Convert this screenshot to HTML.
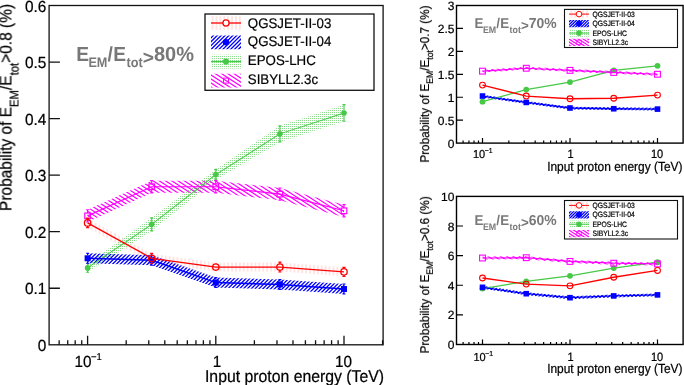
<!DOCTYPE html>
<html><head><meta charset="utf-8"><style>
html,body{margin:0;padding:0;background:#fff;width:684px;height:385px;overflow:hidden}
svg{display:block} g{will-change:transform}
text{font-family:"Liberation Sans", sans-serif;text-rendering:geometricPrecision}
</style></head><body>
<svg width="684" height="385" viewBox="0 0 684 385">
<defs>
<pattern id="hm" patternUnits="userSpaceOnUse" width="20" height="3.9" patternTransform="rotate(36)">
  <rect x="0" y="1.3" width="20" height="1.3" fill="#ff00ff"/>
</pattern>
<pattern id="hb" patternUnits="userSpaceOnUse" width="20" height="2.6" patternTransform="rotate(-45)">
  <rect x="0" y="0.65" width="20" height="1.3" fill="#0000ff"/>
</pattern>
<pattern id="hr" patternUnits="userSpaceOnUse" width="3.9" height="4">
  <rect x="1.5" y="0" width="0.9" height="4" fill="#ffc4c4"/>
</pattern>
<pattern id="hg" patternUnits="userSpaceOnUse" width="2" height="2">
  <rect x="0" y="0" width="1" height="1" fill="#8cdc8c"/>
</pattern>
<clipPath id="c1"><polygon points="87.6,218.35 151.7,253.75 215.8,262.52 279.9,262.52 344,267.33 344,276.37 279.9,271.57 215.8,271.57 151.7,262.8 87.6,227.4"/></clipPath><clipPath id="c2"><polygon points="87.6,263.48 151.7,217.85 215.8,169.38 279.9,125.84 344,104.63 344,121.26 279.9,141.9 215.8,179.79 151.7,230.85 87.6,272.3"/></clipPath><clipPath id="c3"><polygon points="87.6,209.76 151.7,180.64 215.8,180.64 279.9,187.99 344,204.67 344,216.88 279.9,200.2 215.8,192.85 151.7,192.85 87.6,221.97"/></clipPath><clipPath id="c4"><polygon points="87.6,253.3 151.7,255.28 215.8,277.62 279.9,279.48 344,284.07 344,294.02 279.9,289.44 215.8,287.57 151.7,265.23 87.6,263.25"/></clipPath><clipPath id="c5"><polygon points="211,16.1 241,16.1 241,29.9 211,29.9"/></clipPath><clipPath id="c6"><polygon points="211,35.4 241,35.4 241,49.2 211,49.2"/></clipPath><clipPath id="c7"><polygon points="211,54.7 241,54.7 241,68.5 211,68.5"/></clipPath><clipPath id="c8"><polygon points="211,73.7 241,73.7 241,87.5 211,87.5"/></clipPath><clipPath id="c9"><polygon points="482.5,69.76 526.25,66.87 570,68.98 613.75,71.09 657.5,72.88 657.5,75.63 613.75,73.84 570,71.73 526.25,69.62 482.5,72.51"/></clipPath><clipPath id="c10"><polygon points="482.5,94.66 526.25,101.04 570,106.64 613.75,107.37 657.5,107.74 657.5,110.49 613.75,110.12 570,109.39 526.25,103.79 482.5,97.42"/></clipPath><clipPath id="c11"><polygon points="569,10.5 589,10.5 589,17.7 569,17.7"/></clipPath><clipPath id="c12"><polygon points="569,20 589,20 589,27.2 569,27.2"/></clipPath><clipPath id="c13"><polygon points="569,29.5 589,29.5 589,36.7 569,36.7"/></clipPath><clipPath id="c14"><polygon points="569,38.8 589,38.8 589,46 569,46"/></clipPath><clipPath id="c15"><polygon points="482.5,256.53 526.25,256.23 570,259.93 613.75,261.71 657.5,262.45 657.5,265.41 613.75,264.67 570,262.9 526.25,259.19 482.5,259.49"/></clipPath><clipPath id="c16"><polygon points="482.5,285.85 526.25,292.22 570,296.22 613.75,294.44 657.5,293.41 657.5,296.37 613.75,297.4 570,299.18 526.25,295.18 482.5,288.81"/></clipPath><clipPath id="c17"><polygon points="569,201.8 589,201.8 589,209 569,209"/></clipPath><clipPath id="c18"><polygon points="569,211.2 589,211.2 589,218.4 569,218.4"/></clipPath><clipPath id="c19"><polygon points="569,220.6 589,220.6 589,227.8 569,227.8"/></clipPath><clipPath id="c20"><polygon points="569,230 589,230 589,237.2 569,237.2"/></clipPath></defs>
<rect width="684" height="385" fill="#fff"/>
<polygon points="87.6,218.35 151.7,253.75 215.8,262.52 279.9,262.52 344,267.33 344,276.37 279.9,271.57 215.8,271.57 151.7,262.8 87.6,227.4" fill="url(#hr)" stroke="none"/>
<polygon points="87.6,263.48 151.7,217.85 215.8,169.38 279.9,125.84 344,104.63 344,121.26 279.9,141.9 215.8,179.79 151.7,230.85 87.6,272.3" fill="url(#hg)" stroke="none"/>
<path clip-path="url(#c3)" d="M178.62,10.95L404.82,157.84M176.77,13.8L402.97,160.69M174.92,16.65L401.12,163.54M173.07,19.5L399.27,166.4M171.22,22.35L397.41,169.25M169.36,25.2L395.56,172.1M167.51,28.06L393.71,174.95M165.66,30.91L391.86,177.8M163.81,33.76L390.01,180.65M161.96,36.61L388.16,183.5M160.11,39.46L386.3,186.36M158.25,42.31L384.45,189.21M156.4,45.16L382.6,192.06M154.55,48.02L380.75,194.91M152.7,50.87L378.9,197.76M150.85,53.72L377.05,200.61M148.99,56.57L375.19,203.46M147.14,59.42L373.34,206.32M145.29,62.27L371.49,209.17M143.44,65.12L369.64,212.02M141.59,67.98L367.79,214.87M139.74,70.83L365.93,217.72M137.88,73.68L364.08,220.57M136.03,76.53L362.23,223.43M134.18,79.38L360.38,226.28M132.33,82.23L358.53,229.13M130.48,85.08L356.68,231.98M128.63,87.94L354.82,234.83M126.77,90.79L352.97,237.68M124.92,93.64L351.12,240.53M123.07,96.49L349.27,243.39M121.22,99.34L347.42,246.24M119.37,102.19L345.57,249.09M117.51,105.04L343.71,251.94M115.66,107.9L341.86,254.79M113.81,110.75L340.01,257.64M111.96,113.6L338.16,260.49M110.11,116.45L336.31,263.35M108.26,119.3L334.45,266.2M106.4,122.15L332.6,269.05M104.55,125.01L330.75,271.9M102.7,127.86L328.9,274.75M100.85,130.71L327.05,277.6M99,133.56L325.2,280.45M97.15,136.41L323.34,283.31M95.29,139.26L321.49,286.16M93.44,142.11L319.64,289.01M91.59,144.97L317.79,291.86M89.74,147.82L315.94,294.71M87.89,150.67L314.09,297.56M86.03,153.52L312.23,300.42M84.18,156.37L310.38,303.27M82.33,159.22L308.53,306.12M80.48,162.07L306.68,308.97M78.63,164.93L304.83,311.82M76.78,167.78L302.97,314.67M74.92,170.63L301.12,317.52M73.07,173.48L299.27,320.38M71.22,176.33L297.42,323.23M69.37,179.18L295.57,326.08M67.52,182.03L293.72,328.93M65.67,184.89L291.86,331.78M63.81,187.74L290.01,334.63M61.96,190.59L288.16,337.48M60.11,193.44L286.31,340.34M58.26,196.29L284.46,343.19M56.41,199.14L282.61,346.04M54.55,202L280.75,348.89M52.7,204.85L278.9,351.74M50.85,207.7L277.05,354.59M49,210.55L275.2,357.44M47.15,213.4L273.35,360.3M45.3,216.25L271.49,363.15M43.44,219.1L269.64,366M41.59,221.96L267.79,368.85M39.74,224.81L265.94,371.7M37.89,227.66L264.09,374.55M36.04,230.51L262.24,377.41M34.19,233.36L260.38,380.26M32.33,236.21L258.53,383.11M30.48,239.06L256.68,385.96M28.63,241.92L254.83,388.81M26.78,244.77L252.98,391.66" stroke="#ff00ff" stroke-width="1.2" fill="none"/>
<path clip-path="url(#c4)" d="M21.31,269.81L211.95,79.17M23.25,271.76L213.9,81.11M25.19,273.7L215.84,83.05M27.14,275.64L217.78,85M29.08,277.59L219.73,86.94M31.03,279.53L221.67,88.89M32.97,281.48L223.62,90.83M34.92,283.42L225.56,92.78M36.86,285.37L227.51,94.72M38.81,287.31L229.45,96.67M40.75,289.26L231.4,98.61M42.7,291.2L233.34,100.56M44.64,293.15L235.29,102.5M46.58,295.09L237.23,104.44M48.53,297.03L239.17,106.39M50.47,298.98L241.12,108.33M52.42,300.92L243.06,110.28M54.36,302.87L245.01,112.22M56.31,304.81L246.95,114.17M58.25,306.76L248.9,116.11M60.2,308.7L250.84,118.06M62.14,310.65L252.79,120M64.09,312.59L254.73,121.95M66.03,314.54L256.68,123.89M67.97,316.48L258.62,125.83M69.92,318.42L260.56,127.78M71.86,320.37L262.51,129.72M73.81,322.31L264.45,131.67M75.75,324.26L266.4,133.61M77.7,326.2L268.34,135.56M79.64,328.15L270.29,137.5M81.59,330.09L272.23,139.45M83.53,332.04L274.18,141.39M85.48,333.98L276.12,143.34M87.42,335.93L278.07,145.28M89.36,337.87L280.01,147.22M91.31,339.81L281.95,149.17M93.25,341.76L283.9,151.11M95.2,343.7L285.84,153.06M97.14,345.65L287.79,155M99.09,347.59L289.73,156.95M101.03,349.54L291.68,158.89M102.98,351.48L293.62,160.84M104.92,353.43L295.57,162.78M106.87,355.37L297.51,164.73M108.81,357.32L299.46,166.67M110.75,359.26L301.4,168.61M112.7,361.2L303.34,170.56M114.64,363.15L305.29,172.5M116.59,365.09L307.23,174.45M118.53,367.04L309.18,176.39M120.48,368.98L311.12,178.34M122.42,370.93L313.07,180.28M124.37,372.87L315.01,182.23M126.31,374.82L316.96,184.17M128.26,376.76L318.9,186.12M130.2,378.71L320.85,188.06M132.14,380.65L322.79,190M134.09,382.59L324.73,191.95M136.03,384.54L326.68,193.89M137.98,386.48L328.62,195.84M139.92,388.43L330.57,197.78M141.87,390.37L332.51,199.73M143.81,392.32L334.46,201.67M145.76,394.26L336.4,203.62M147.7,396.21L338.35,205.56M149.65,398.15L340.29,207.51M151.59,400.1L342.24,209.45M153.53,402.04L344.18,211.39M155.48,403.98L346.12,213.34M157.42,405.93L348.07,215.28M159.37,407.87L350.01,217.23M161.31,409.82L351.96,219.17M163.26,411.76L353.9,221.12M165.2,413.71L355.85,223.06M167.15,415.65L357.79,225.01M169.09,417.6L359.74,226.95M171.04,419.54L361.68,228.9M172.98,421.49L363.63,230.84M174.92,423.43L365.57,232.78M176.87,425.37L367.51,234.73M178.81,427.32L369.46,236.67M180.76,429.26L371.4,238.62M182.7,431.21L373.35,240.56M184.65,433.15L375.29,242.51M186.59,435.1L377.24,244.45M188.54,437.04L379.18,246.4M190.48,438.99L381.13,248.34M192.43,440.93L383.07,250.29M194.37,442.88L385.02,252.23M196.31,444.82L386.96,254.17M198.26,446.76L388.9,256.12M200.2,448.71L390.85,258.06M202.15,450.65L392.79,260.01M204.09,452.6L394.74,261.95M206.04,454.54L396.68,263.9M207.98,456.49L398.63,265.84M209.93,458.43L400.57,267.79M211.87,460.38L402.52,269.73M213.82,462.32L404.46,271.68M215.76,464.27L406.41,273.62M217.7,466.21L408.35,275.56M219.65,468.15L410.29,277.51" stroke="#0000ff" stroke-width="1.3" fill="none"/>
<polyline points="87.6,267.89 151.7,224.35 215.8,174.58 279.9,133.87 344,112.94" fill="none" stroke="#47c847" stroke-width="1.05"/>
<path d="M87.6,263.48V265.39M87.6,270.39V272.3M86.1,263.48H89.1M86.1,272.3H89.1M151.7,217.85V221.85M151.7,226.85V230.85M150.2,217.85H153.2M150.2,230.85H153.2M215.8,169.38V172.08M215.8,177.08V179.79M214.3,169.38H217.3M214.3,179.79H217.3M279.9,125.84V131.37M279.9,136.37V141.9M278.4,125.84H281.4M278.4,141.9H281.4M344,104.63V110.44M344,115.44V121.26M342.5,104.63H345.5M342.5,121.26H345.5" stroke="#47c847" stroke-width="1.1" fill="none"/>
<circle cx="87.6" cy="267.89" r="2.8" fill="#47c847"/>
<circle cx="151.7" cy="224.35" r="2.8" fill="#47c847"/>
<circle cx="215.8" cy="174.58" r="2.8" fill="#47c847"/>
<circle cx="279.9" cy="133.87" r="2.8" fill="#47c847"/>
<circle cx="344" cy="112.94" r="2.8" fill="#47c847"/>
<polyline points="87.6,215.87 151.7,186.74 215.8,186.74 279.9,194.09 344,210.78" fill="none" stroke="#ff00ff" stroke-width="1.2"/>
<path d="M87.6,209.76V213.07M87.6,218.67V221.97M86.1,209.76H89.1M86.1,221.97H89.1M151.7,180.64V183.94M151.7,189.54V192.85M150.2,180.64H153.2M150.2,192.85H153.2M215.8,180.64V183.94M215.8,189.54V192.85M214.3,180.64H217.3M214.3,192.85H217.3M279.9,187.99V191.29M279.9,196.89V200.2M278.4,187.99H281.4M278.4,200.2H281.4M344,204.67V207.98M344,213.58V216.88M342.5,204.67H345.5M342.5,216.88H345.5" stroke="#ff00ff" stroke-width="1.1" fill="none"/>
<rect x="84.8" y="213.07" width="5.6" height="5.6" fill="none" stroke="#ff00ff" stroke-width="1.2"/>
<rect x="148.9" y="183.94" width="5.6" height="5.6" fill="none" stroke="#ff00ff" stroke-width="1.2"/>
<rect x="213" y="183.94" width="5.6" height="5.6" fill="none" stroke="#ff00ff" stroke-width="1.2"/>
<rect x="277.1" y="191.29" width="5.6" height="5.6" fill="none" stroke="#ff00ff" stroke-width="1.2"/>
<rect x="341.2" y="207.98" width="5.6" height="5.6" fill="none" stroke="#ff00ff" stroke-width="1.2"/>
<polyline points="87.6,258.28 151.7,260.26 215.8,282.6 279.9,284.46 344,289.04" fill="none" stroke="#0000ff" stroke-width="1.5"/>
<path d="M87.6,253.3V255.28M87.6,261.28V263.25M86.1,253.3H89.1M86.1,263.25H89.1M151.7,255.28V257.26M151.7,263.26V265.23M150.2,255.28H153.2M150.2,265.23H153.2M215.8,277.62V279.6M215.8,285.6V287.57M214.3,277.62H217.3M214.3,287.57H217.3M279.9,279.48V281.46M279.9,287.46V289.44M278.4,279.48H281.4M278.4,289.44H281.4M344,284.07V286.04M344,292.04V294.02M342.5,284.07H345.5M342.5,294.02H345.5" stroke="#0000ff" stroke-width="1.1" fill="none"/>
<rect x="84.6" y="255.28" width="6" height="6" fill="#0000ff"/>
<rect x="148.7" y="257.26" width="6" height="6" fill="#0000ff"/>
<rect x="212.8" y="279.6" width="6" height="6" fill="#0000ff"/>
<rect x="276.9" y="281.46" width="6" height="6" fill="#0000ff"/>
<rect x="341" y="286.04" width="6" height="6" fill="#0000ff"/>
<polyline points="87.6,222.88 151.7,258.28 215.8,267.04 279.9,267.04 344,271.85" fill="none" stroke="#ff0000" stroke-width="1.3"/>
<path d="M87.6,218.07V219.68M87.6,226.08V227.68M86.1,218.07H89.1M86.1,227.68H89.1M151.7,253.3V255.08M151.7,261.48V263.25M150.2,253.3H153.2M150.2,263.25H153.2M279.9,262.07V263.84M279.9,270.24V272.02M278.4,262.07H281.4M278.4,272.02H281.4M344,267.33V268.65M344,275.05V276.37M342.5,267.33H345.5M342.5,276.37H345.5" stroke="#ff0000" stroke-width="1.2" fill="none"/>
<circle cx="87.6" cy="222.88" r="3.2" fill="none" stroke="#ff0000" stroke-width="1.3"/>
<circle cx="151.7" cy="258.28" r="3.2" fill="none" stroke="#ff0000" stroke-width="1.3"/>
<circle cx="215.8" cy="267.04" r="3.2" fill="none" stroke="#ff0000" stroke-width="1.3"/>
<circle cx="279.9" cy="267.04" r="3.2" fill="none" stroke="#ff0000" stroke-width="1.3"/>
<circle cx="344" cy="271.85" r="3.2" fill="none" stroke="#ff0000" stroke-width="1.3"/>
<rect x="49.1" y="5.5" width="334" height="339.3" fill="none" stroke="#111" stroke-width="1.3"/>
<path d="M59.16,344.8V340.3M67.74,344.8V340.3M75.18,344.8V340.3M81.73,344.8V340.3M87.6,344.8V335.8M126.19,344.8V340.3M148.77,344.8V340.3M164.78,344.8V340.3M177.21,344.8V340.3M187.36,344.8V340.3M195.94,344.8V340.3M203.38,344.8V340.3M209.93,344.8V340.3M215.8,344.8V335.8M254.39,344.8V340.3M276.97,344.8V340.3M292.98,344.8V340.3M305.41,344.8V340.3M315.56,344.8V340.3M324.14,344.8V340.3M331.58,344.8V340.3M338.13,344.8V340.3M344,344.8V335.8M382.59,344.8V340.3" stroke="#111" stroke-width="1.3" fill="none"/>
<path d="M49.1,288.25H59.9M49.1,231.7H59.9M49.1,175.15H59.9M49.1,118.6H59.9M49.1,62.05H59.9" stroke="#111" stroke-width="1.3" fill="none"/>
<g transform="translate(46.4,350.8) scale(1.0,1.05)"><text x="0" y="0" font-size="15.4" text-anchor="end" fill="#000" font-weight="normal" stroke="#000" stroke-width="0.22">0</text></g>
<g transform="translate(46.4,294.25) scale(1.0,1.05)"><text x="0" y="0" font-size="15.4" text-anchor="end" fill="#000" font-weight="normal" stroke="#000" stroke-width="0.22">0.1</text></g>
<g transform="translate(46.4,237.7) scale(1.0,1.05)"><text x="0" y="0" font-size="15.4" text-anchor="end" fill="#000" font-weight="normal" stroke="#000" stroke-width="0.22">0.2</text></g>
<g transform="translate(46.4,181.15) scale(1.0,1.05)"><text x="0" y="0" font-size="15.4" text-anchor="end" fill="#000" font-weight="normal" stroke="#000" stroke-width="0.22">0.3</text></g>
<g transform="translate(46.4,124.6) scale(1.0,1.05)"><text x="0" y="0" font-size="15.4" text-anchor="end" fill="#000" font-weight="normal" stroke="#000" stroke-width="0.22">0.4</text></g>
<g transform="translate(46.4,68.05) scale(1.0,1.05)"><text x="0" y="0" font-size="15.4" text-anchor="end" fill="#000" font-weight="normal" stroke="#000" stroke-width="0.22">0.5</text></g>
<g transform="translate(46.4,11.5) scale(1.0,1.05)"><text x="0" y="0" font-size="15.4" text-anchor="end" fill="#000" font-weight="normal" stroke="#000" stroke-width="0.22">0.6</text></g>
<g transform="translate(74.6,366.8) scale(1.0,1.05)"><text x="0" y="0" font-size="15.3" text-anchor="start" fill="#000" font-weight="normal" stroke="#000" stroke-width="0.22">10<tspan font-size="9.5" dy="-6.8" dx="-0.6">−1</tspan></text></g>
<g transform="translate(216.9,366.8) scale(1.0,1.05)"><text x="0" y="0" font-size="15.3" text-anchor="middle" fill="#000" font-weight="normal" stroke="#000" stroke-width="0.22">1</text></g>
<g transform="translate(343.4,366.8) scale(1.0,1.05)"><text x="0" y="0" font-size="15.3" text-anchor="middle" fill="#000" font-weight="normal" stroke="#000" stroke-width="0.22">10</text></g>
<g transform="translate(384.1,381.8) scale(1.0,1.08)"><text x="0" y="0" font-size="15.8" text-anchor="end" fill="#000" font-weight="normal" stroke="#000" stroke-width="0.22">Input proton energy (TeV)</text></g>
<g transform="translate(11.6,4) rotate(-90) scale(1.03,1.15)">
<text x="0" y="0" font-size="15" text-anchor="end" stroke="#000" stroke-width="0.2">Probability of E<tspan font-size="11" dy="5.6">EM</tspan><tspan dy="-5.6">/E</tspan><tspan font-size="11" dy="5.6">tot</tspan><tspan dy="-5.6">&gt;0.8 (%)</tspan></text>
</g>
<g transform="translate(76.2,61.3) scale(1,1.06)"><text x="0" y="0" font-size="19.2" fill="#787878" font-weight="bold">E</text></g>
<g transform="translate(88.4,67.5) scale(1,1.08)"><text x="0" y="0" font-size="12.7" fill="#787878" font-weight="bold">EM</text></g>
<g transform="translate(107.6,61.3) scale(1,1.06)"><text x="0" y="0" font-size="19.2" fill="#787878" font-weight="bold">/</text></g>
<g transform="translate(113.2,61.3) scale(1,1.06)"><text x="0" y="0" font-size="19.2" fill="#787878" font-weight="bold">E</text></g>
<g transform="translate(126.6,67.5) scale(1,1.08)"><text x="0" y="0" font-size="12.7" fill="#787878" font-weight="bold">tot</text></g>
<g transform="translate(142.8,64) scale(1,1.0)"><text x="0" y="0" font-size="19.2" fill="#787878" font-weight="bold">&gt;</text></g>
<g transform="translate(154,61.3) scale(1,1.03)"><text x="0" y="0" font-size="20" fill="#787878" font-weight="bold">80%</text></g>
<rect x="205" y="14" width="169" height="76.3" fill="#fff" stroke="#111" stroke-width="1.3"/>
<polygon points="211,16.1 241,16.1 241,29.9 211,29.9" fill="url(#hr)" stroke="none"/>
<path d="M211,23H241" stroke="#ff0000" stroke-width="1.3"/>
<circle cx="226" cy="23" r="3.1" fill="#fff" stroke="#ff0000" stroke-width="1.3"/>
<g transform="translate(247.8,27.5) scale(1.0,1.05)"><text x="0" y="0" font-size="13.3" text-anchor="start" fill="#000" font-weight="normal" stroke="#000" stroke-width="0.2">QGSJET-II-03</text></g>
<path clip-path="url(#c6)" d="M193.29,40.01L223.71,9.59M195.23,41.95L225.65,11.53M197.18,43.9L227.6,13.48M199.12,45.84L229.54,15.42M201.07,47.79L231.49,17.37M203.01,49.73L233.43,19.31M204.96,51.68L235.38,21.26M206.9,53.62L237.32,23.2M208.84,55.57L239.27,25.14M210.79,57.51L241.21,27.09M212.73,59.46L243.16,29.03M214.68,61.4L245.1,30.98M216.62,63.34L247.04,32.92M218.57,65.29L248.99,34.87M220.51,67.23L250.93,36.81M222.46,69.18L252.88,38.76M224.4,71.12L254.82,40.7M226.35,73.07L256.77,42.65M228.29,75.01L258.71,44.59" stroke="#0000ff" stroke-width="1.3" fill="none"/>
<circle cx="226" cy="42.3" r="3.26" fill="#0000ff"/>
<g transform="translate(247.8,46.2) scale(1.0,1.05)"><text x="0" y="0" font-size="13.3" text-anchor="start" fill="#000" font-weight="normal" stroke="#000" stroke-width="0.2">QGSJET-II-04</text></g>
<polygon points="211,54.7 241,54.7 241,68.5 211,68.5" fill="url(#hg)" stroke="none"/>
<path d="M211,61.6H241" stroke="#47c847" stroke-width="1.3"/>
<circle cx="226" cy="61.6" r="3.1" fill="#47c847"/>
<g transform="translate(247.8,65) scale(1.0,1.05)"><text x="0" y="0" font-size="13.3" text-anchor="start" fill="#000" font-weight="normal" stroke="#000" stroke-width="0.2">EPOS-LHC</text></g>
<path clip-path="url(#c8)" d="M222.77,46.07L258.85,69.5M220.92,48.92L257,72.36M219.07,51.78L255.15,75.21M217.22,54.63L253.3,78.06M215.37,57.48L251.45,80.91M213.51,60.33L249.6,83.76M211.66,63.18L247.74,86.61M209.81,66.03L245.89,89.46M207.96,68.88L244.04,92.32M206.11,71.74L242.19,95.17M204.26,74.59L240.34,98.02M202.4,77.44L238.49,100.87M200.55,80.29L236.63,103.72M198.7,83.14L234.78,106.57M196.85,85.99L232.93,109.42M195,88.84L231.08,112.28M193.15,91.7L229.23,115.13" stroke="#ff00ff" stroke-width="1.2" fill="none"/>
<rect x="223.52" y="78.12" width="4.96" height="4.96" fill="none" stroke="#ff00ff" stroke-width="1.0"/>
<g transform="translate(247.8,84) scale(1.0,1.05)"><text x="0" y="0" font-size="13.3" text-anchor="start" fill="#000" font-weight="normal" stroke="#000" stroke-width="0.2">SIBYLL2.3c</text></g>
<path clip-path="url(#c9)" d="M546.03,-61.88L701.37,39M544.18,-59.03L699.52,41.85M542.33,-56.18L697.67,44.7M540.48,-53.33L695.82,47.55M538.63,-50.48L693.96,50.4M536.77,-47.62L692.11,53.25M534.92,-44.77L690.26,56.1M533.07,-41.92L688.41,58.96M531.22,-39.07L686.56,61.81M529.37,-36.22L684.7,64.66M527.51,-33.37L682.85,67.51M525.66,-30.52L681,70.36M523.81,-27.66L679.15,73.21M521.96,-24.81L677.3,76.06M520.11,-21.96L675.45,78.92M518.26,-19.11L673.59,81.77M516.4,-16.26L671.74,84.62M514.55,-13.41L669.89,87.47M512.7,-10.56L668.04,90.32M510.85,-7.7L666.19,93.17M509,-4.85L664.33,96.03M507.15,-2L662.48,98.88M505.29,0.85L660.63,101.73M503.44,3.7L658.78,104.58M501.59,6.55L656.93,107.43M499.74,9.41L655.08,110.28M497.89,12.26L653.22,113.13M496.03,15.11L651.37,115.99M494.18,17.96L649.52,118.84M492.33,20.81L647.67,121.69M490.48,23.66L645.82,124.54M488.63,26.51L643.97,127.39M486.78,29.37L642.11,130.24M484.92,32.22L640.26,133.09M483.07,35.07L638.41,135.95M481.22,37.92L636.56,138.8M479.37,40.77L634.71,141.65M477.52,43.62L632.85,144.5M475.67,46.47L631,147.35M473.81,49.33L629.15,150.2M471.96,52.18L627.3,153.05M470.11,55.03L625.45,155.91M468.26,57.88L623.6,158.76M466.41,60.73L621.74,161.61M464.55,63.58L619.89,164.46M462.7,66.43L618.04,167.31M460.85,69.29L616.19,170.16M459,72.14L614.34,173.02M457.15,74.99L612.49,175.87M455.3,77.84L610.63,178.72M453.44,80.69L608.78,181.57M451.59,83.54L606.93,184.42M449.74,86.4L605.08,187.27M447.89,89.25L603.23,190.12M446.04,92.1L601.37,192.98M444.18,94.95L599.52,195.83M442.33,97.8L597.67,198.68M440.48,100.65L595.82,201.53M438.63,103.5L593.97,204.38" stroke="#ff00ff" stroke-width="1.2" fill="none"/>
<path clip-path="url(#c10)" d="M436.28,100.18L567.6,-31.14M438.23,102.12L569.55,-29.2M440.17,104.07L571.49,-27.25M442.11,106.01L573.43,-25.31M444.06,107.96L575.38,-23.36M446,109.9L577.32,-21.42M447.95,111.84L579.27,-19.47M449.89,113.79L581.21,-17.53M451.84,115.73L583.16,-15.59M453.78,117.68L585.1,-13.64M455.73,119.62L587.05,-11.7M457.67,121.57L588.99,-9.75M459.62,123.51L590.94,-7.81M461.56,125.46L592.88,-5.86M463.5,127.4L594.82,-3.92M465.45,129.35L596.77,-1.97M467.39,131.29L598.71,-0.03M469.34,133.23L600.66,1.92M471.28,135.18L602.6,3.86M473.23,137.12L604.55,5.8M475.17,139.07L606.49,7.75M477.12,141.01L608.44,9.69M479.06,142.96L610.38,11.64M481.01,144.9L612.33,13.58M482.95,146.85L614.27,15.53M484.89,148.79L616.21,17.47M486.84,150.74L618.16,19.42M488.78,152.68L620.1,21.36M490.73,154.62L622.05,23.31M492.67,156.57L623.99,25.25M494.62,158.51L625.94,27.19M496.56,160.46L627.88,29.14M498.51,162.4L629.83,31.08M500.45,164.35L631.77,33.03M502.4,166.29L633.72,34.97M504.34,168.24L635.66,36.92M506.28,170.18L637.6,38.86M508.23,172.13L639.55,40.81M510.17,174.07L641.49,42.75M512.12,176.01L643.44,44.7M514.06,177.96L645.38,46.64M516.01,179.9L647.33,48.58M517.95,181.85L649.27,50.53M519.9,183.79L651.22,52.47M521.84,185.74L653.16,54.42M523.79,187.68L655.11,56.36M525.73,189.63L657.05,58.31M527.67,191.57L658.99,60.25M529.62,193.52L660.94,62.2M531.56,195.46L662.88,64.14M533.51,197.4L664.83,66.09M535.45,199.35L666.77,68.03M537.4,201.29L668.72,69.97M539.34,203.24L670.66,71.92M541.29,205.18L672.61,73.86M543.23,207.13L674.55,75.81M545.18,209.07L676.5,77.75M547.12,211.02L678.44,79.7M549.06,212.96L680.38,81.64M551.01,214.91L682.33,83.59M552.95,216.85L684.27,85.53M554.9,218.79L686.22,87.48M556.84,220.74L688.16,89.42M558.79,222.68L690.11,91.36M560.73,224.63L692.05,93.31M562.68,226.57L694,95.25M564.62,228.52L695.94,97.2M566.57,230.46L697.89,99.14M568.51,232.41L699.83,101.09M570.45,234.35L701.77,103.03M572.4,236.3L703.72,104.98" stroke="#0000ff" stroke-width="1.3" fill="none"/>
<polyline points="482.5,101.64 526.25,89.62 570,82.05 613.75,70.45 657.5,65.86" fill="none" stroke="#47c847" stroke-width="1.3"/>
<circle cx="482.5" cy="101.64" r="2.9" fill="#47c847"/>
<circle cx="526.25" cy="89.62" r="2.9" fill="#47c847"/>
<circle cx="570" cy="82.05" r="2.9" fill="#47c847"/>
<circle cx="613.75" cy="70.45" r="2.9" fill="#47c847"/>
<circle cx="657.5" cy="65.86" r="2.9" fill="#47c847"/>
<polyline points="482.5,71.14 526.25,68.25 570,70.36 613.75,72.47 657.5,74.25" fill="none" stroke="#ff00ff" stroke-width="1.2"/>
<rect x="479.6" y="68.24" width="5.8" height="5.8" fill="none" stroke="#ff00ff" stroke-width="1.1"/>
<rect x="523.35" y="65.35" width="5.8" height="5.8" fill="none" stroke="#ff00ff" stroke-width="1.1"/>
<rect x="567.1" y="67.46" width="5.8" height="5.8" fill="none" stroke="#ff00ff" stroke-width="1.1"/>
<rect x="610.85" y="69.57" width="5.8" height="5.8" fill="none" stroke="#ff00ff" stroke-width="1.1"/>
<rect x="654.6" y="71.35" width="5.8" height="5.8" fill="none" stroke="#ff00ff" stroke-width="1.1"/>
<polyline points="482.5,96.04 526.25,102.42 570,108.01 613.75,108.75 657.5,109.11" fill="none" stroke="#0000ff" stroke-width="1.3"/>
<rect x="479.7" y="93.24" width="5.6" height="5.6" fill="#0000ff"/>
<rect x="523.45" y="99.62" width="5.6" height="5.6" fill="#0000ff"/>
<rect x="567.2" y="105.21" width="5.6" height="5.6" fill="#0000ff"/>
<rect x="610.95" y="105.95" width="5.6" height="5.6" fill="#0000ff"/>
<rect x="654.7" y="106.31" width="5.6" height="5.6" fill="#0000ff"/>
<polyline points="482.5,85.12 526.25,96.04 570,98.75 613.75,98.24 657.5,95.12" fill="none" stroke="#ff0000" stroke-width="1.3"/>
<circle cx="482.5" cy="85.12" r="2.9" fill="none" stroke="#ff0000" stroke-width="1.1"/>
<circle cx="526.25" cy="96.04" r="2.9" fill="none" stroke="#ff0000" stroke-width="1.1"/>
<circle cx="570" cy="98.75" r="2.9" fill="none" stroke="#ff0000" stroke-width="1.1"/>
<circle cx="613.75" cy="98.24" r="2.9" fill="none" stroke="#ff0000" stroke-width="1.1"/>
<circle cx="657.5" cy="95.12" r="2.9" fill="none" stroke="#ff0000" stroke-width="1.1"/>
<rect x="456.5" y="5.5" width="226.6" height="137.6" fill="none" stroke="#000" stroke-width="1.4"/>
<path d="M463.09,143.1V140.6M468.95,143.1V140.6M474.02,143.1V140.6M478.5,143.1V140.6M482.5,143.1V138.1M508.84,143.1V140.6M524.25,143.1V140.6M535.18,143.1V140.6M543.66,143.1V140.6M550.59,143.1V140.6M556.45,143.1V140.6M561.52,143.1V140.6M566,143.1V140.6M570,143.1V138.1M596.34,143.1V140.6M611.75,143.1V140.6M622.68,143.1V140.6M631.16,143.1V140.6M638.09,143.1V140.6M643.95,143.1V140.6M649.02,143.1V140.6M653.5,143.1V140.6M657.5,143.1V138.1" stroke="#000" stroke-width="1.2" fill="none"/>
<path d="M456.5,120.17H463M456.5,97.23H463M456.5,74.3H463M456.5,51.37H463M456.5,28.43H463" stroke="#000" stroke-width="1.2" fill="none"/>
<g transform="translate(454.4,147.6) scale(1.0,1.0)"><text x="0" y="0" font-size="12" text-anchor="end" fill="#000" font-weight="normal" stroke="#000" stroke-width="0.22">0</text></g>
<g transform="translate(454.4,124.67) scale(1.0,1.0)"><text x="0" y="0" font-size="12" text-anchor="end" fill="#000" font-weight="normal" stroke="#000" stroke-width="0.22">0.5</text></g>
<g transform="translate(454.4,101.73) scale(1.0,1.0)"><text x="0" y="0" font-size="12" text-anchor="end" fill="#000" font-weight="normal" stroke="#000" stroke-width="0.22">1</text></g>
<g transform="translate(454.4,78.8) scale(1.0,1.0)"><text x="0" y="0" font-size="12" text-anchor="end" fill="#000" font-weight="normal" stroke="#000" stroke-width="0.22">1.5</text></g>
<g transform="translate(454.4,55.87) scale(1.0,1.0)"><text x="0" y="0" font-size="12" text-anchor="end" fill="#000" font-weight="normal" stroke="#000" stroke-width="0.22">2</text></g>
<g transform="translate(454.4,32.93) scale(1.0,1.0)"><text x="0" y="0" font-size="12" text-anchor="end" fill="#000" font-weight="normal" stroke="#000" stroke-width="0.22">2.5</text></g>
<g transform="translate(454.4,10) scale(1.0,1.0)"><text x="0" y="0" font-size="12" text-anchor="end" fill="#000" font-weight="normal" stroke="#000" stroke-width="0.22">3</text></g>
<g transform="translate(473,158.2) scale(1.0,1.05)"><text x="0" y="0" font-size="11" text-anchor="start" fill="#000" font-weight="normal" stroke="#000" stroke-width="0.22">10<tspan font-size="6.8" dy="-4.9" dx="-0.4">−1</tspan></text></g>
<g transform="translate(570.6,158.2) scale(1.0,1.1)"><text x="0" y="0" font-size="11" text-anchor="middle" fill="#000" font-weight="normal" stroke="#000" stroke-width="0.22">1</text></g>
<g transform="translate(657,158.2) scale(1.0,1.1)"><text x="0" y="0" font-size="11" text-anchor="middle" fill="#000" font-weight="normal" stroke="#000" stroke-width="0.22">10</text></g>
<g transform="translate(682.5,171.3) scale(1.0,1.1)"><text x="0" y="0" font-size="11.95" text-anchor="end" fill="#000" font-weight="normal" stroke="#000" stroke-width="0.22">Input proton energy (TeV)</text></g>
<g transform="translate(429.2,5.5) rotate(-90) scale(1.03,1.12)">
<text x="0" y="0" font-size="11.4" text-anchor="end" stroke="#000" stroke-width="0.2">Probability of E<tspan font-size="8.4" dy="3.4">EM</tspan><tspan dy="-3.4">/E</tspan><tspan font-size="8.4" dy="3.4">tot</tspan><tspan dy="-3.4">&gt;0.7 (%)</tspan></text>
</g>
<g transform="translate(474.4,28.2) scale(1,1.06)"><text x="0" y="0" font-size="13.4" fill="#787878" font-weight="bold">E</text></g>
<g transform="translate(482.91,32.53) scale(1,1.08)"><text x="0" y="0" font-size="8.86" fill="#787878" font-weight="bold">EM</text></g>
<g transform="translate(496.31,28.2) scale(1,1.06)"><text x="0" y="0" font-size="13.4" fill="#787878" font-weight="bold">/</text></g>
<g transform="translate(500.22,28.2) scale(1,1.06)"><text x="0" y="0" font-size="13.4" fill="#787878" font-weight="bold">E</text></g>
<g transform="translate(509.57,32.53) scale(1,1.08)"><text x="0" y="0" font-size="8.86" fill="#787878" font-weight="bold">tot</text></g>
<g transform="translate(520.88,30.08) scale(1,1.0)"><text x="0" y="0" font-size="13.4" fill="#787878" font-weight="bold">&gt;</text></g>
<g transform="translate(528.7,28.2) scale(1,1.03)"><text x="0" y="0" font-size="13.96" fill="#787878" font-weight="bold">70%</text></g>
<rect x="564.5" y="9.4" width="113" height="38.1" fill="#fff" stroke="#111" stroke-width="1.1"/>
<polygon points="569,10.5 589,10.5 589,17.7 569,17.7" fill="url(#hr)" stroke="none"/>
<path d="M569,14.1H589" stroke="#ff0000" stroke-width="0.9750000000000001"/>
<circle cx="579" cy="14.1" r="2.8" fill="#fff" stroke="#ff0000" stroke-width="0.9750000000000001"/>
<g transform="translate(592.4,16.9) scale(1.0,1.15)"><text x="0" y="0" font-size="6.75" text-anchor="start" fill="#000" font-weight="normal" stroke="#000" stroke-width="0.2">QGSJET-II-03</text></g>
<path clip-path="url(#c12)" d="M554.82,21.53L576.93,-0.58M556.28,22.98L578.38,0.88M557.74,24.44L579.84,2.34M559.2,25.9L581.3,3.8M560.66,27.36L582.76,5.26M562.12,28.82L584.22,6.72M563.57,30.28L585.68,8.17M565.03,31.73L587.13,9.63M566.49,33.19L588.59,11.09M567.95,34.65L590.05,12.55M569.41,36.11L591.51,14.01M570.87,37.57L592.97,15.47M572.32,39.03L594.43,16.92M573.78,40.48L595.88,18.38M575.24,41.94L597.34,19.84M576.7,43.4L598.8,21.3M578.16,44.86L600.26,22.76M579.62,46.32L601.72,24.22M581.07,47.78L603.18,25.67" stroke="#0000ff" stroke-width="1.3" fill="none"/>
<circle cx="579" cy="23.6" r="2.94" fill="#0000ff"/>
<g transform="translate(592.4,26) scale(1.0,1.15)"><text x="0" y="0" font-size="6.75" text-anchor="start" fill="#000" font-weight="normal" stroke="#000" stroke-width="0.2">QGSJET-II-04</text></g>
<polygon points="569,29.5 589,29.5 589,36.7 569,36.7" fill="url(#hg)" stroke="none"/>
<path d="M569,33.1H589" stroke="#47c847" stroke-width="0.9750000000000001"/>
<circle cx="579" cy="33.1" r="2.8" fill="#47c847"/>
<g transform="translate(592.4,35.6) scale(1.0,1.15)"><text x="0" y="0" font-size="6.75" text-anchor="start" fill="#000" font-weight="normal" stroke="#000" stroke-width="0.2">EPOS-LHC</text></g>
<path clip-path="url(#c14)" d="M577,16.78L603.22,33.8M575.61,18.92L601.83,35.94M574.23,21.06L600.44,38.08M572.84,23.2L599.05,40.22M571.45,25.33L597.66,42.36M570.06,27.47L596.27,44.5M568.67,29.61L594.88,46.63M567.28,31.75L593.5,48.77M565.89,33.89L592.11,50.91M564.5,36.03L590.72,53.05M563.12,38.17L589.33,55.19M561.73,40.3L587.94,57.33M560.34,42.44L586.55,59.47M558.95,44.58L585.16,61.6M557.56,46.72L583.77,63.74M556.17,48.86L582.39,65.88M554.78,51L581,68.02" stroke="#ff00ff" stroke-width="1.2" fill="none"/>
<rect x="576.76" y="40.16" width="4.48" height="4.48" fill="none" stroke="#ff00ff" stroke-width="0.75"/>
<g transform="translate(592.4,45) scale(1.0,1.15)"><text x="0" y="0" font-size="6.75" text-anchor="start" fill="#000" font-weight="normal" stroke="#000" stroke-width="0.2">SIBYLL2.3c</text></g>
<path clip-path="url(#c15)" d="M546.02,127.69L701.38,228.58M544.17,130.54L699.53,231.43M542.32,133.39L697.68,234.28M540.47,136.24L695.82,237.13M538.62,139.09L693.97,239.98M536.76,141.94L692.12,242.83M534.91,144.79L690.27,245.68M533.06,147.65L688.42,248.54M531.21,150.5L686.57,251.39M529.36,153.35L684.71,254.24M527.51,156.2L682.86,257.09M525.65,159.05L681.01,259.94M523.8,161.9L679.16,262.79M521.95,164.76L677.31,265.64M520.1,167.61L675.45,268.5M518.25,170.46L673.6,271.35M516.4,173.31L671.75,274.2M514.54,176.16L669.9,277.05M512.69,179.01L668.05,279.9M510.84,181.86L666.2,282.75M508.99,184.72L664.34,285.6M507.14,187.57L662.49,288.46M505.28,190.42L660.64,291.31M503.43,193.27L658.79,294.16M501.58,196.12L656.94,297.01M499.73,198.97L655.09,299.86M497.88,201.82L653.23,302.71M496.03,204.68L651.38,305.57M494.17,207.53L649.53,308.42M492.32,210.38L647.68,311.27M490.47,213.23L645.83,314.12M488.62,216.08L643.97,316.97M486.77,218.93L642.12,319.82M484.91,221.78L640.27,322.67M483.06,224.64L638.42,325.53M481.21,227.49L636.57,328.38M479.36,230.34L634.72,331.23M477.51,233.19L632.86,334.08M475.66,236.04L631.01,336.93M473.8,238.89L629.16,339.78M471.95,241.75L627.31,342.63M470.1,244.6L625.46,345.49M468.25,247.45L623.6,348.34M466.4,250.3L621.75,351.19M464.55,253.15L619.9,354.04M462.69,256L618.05,356.89M460.84,258.85L616.2,359.74M458.99,261.71L614.35,362.59M457.14,264.56L612.49,365.45M455.29,267.41L610.64,368.3M453.43,270.26L608.79,371.15M451.58,273.11L606.94,374M449.73,275.96L605.09,376.85M447.88,278.81L603.24,379.7M446.03,281.67L601.38,382.56M444.18,284.52L599.53,385.41M442.32,287.37L597.68,388.26M440.47,290.22L595.83,391.11M438.62,293.07L593.98,393.96" stroke="#ff00ff" stroke-width="1.2" fill="none"/>
<path clip-path="url(#c16)" d="M436.35,290.04L567.53,158.87M438.3,291.99L569.47,160.82M440.24,293.93L571.42,162.76M442.19,295.88L573.36,164.7M444.13,297.82L575.31,166.65M446.08,299.77L577.25,168.59M448.02,301.71L579.19,170.54M449.97,303.66L581.14,172.48M451.91,305.6L583.08,174.43M453.86,307.55L585.03,176.37M455.8,309.49L586.97,178.32M457.74,311.43L588.92,180.26M459.69,313.38L590.86,182.21M461.63,315.32L592.81,184.15M463.58,317.27L594.75,186.09M465.52,319.21L596.7,188.04M467.47,321.16L598.64,189.98M469.41,323.1L600.58,191.93M471.36,325.05L602.53,193.87M473.3,326.99L604.47,195.82M475.25,328.94L606.42,197.76M477.19,330.88L608.36,199.71M479.13,332.82L610.31,201.65M481.08,334.77L612.25,203.6M483.02,336.71L614.2,205.54M484.97,338.66L616.14,207.48M486.91,340.6L618.09,209.43M488.86,342.55L620.03,211.37M490.8,344.49L621.97,213.32M492.75,346.44L623.92,215.26M494.69,348.38L625.86,217.21M496.64,350.33L627.81,219.15M498.58,352.27L629.75,221.1M500.52,354.21L631.7,223.04M502.47,356.16L633.64,224.99M504.41,358.1L635.59,226.93M506.36,360.05L637.53,228.87M508.3,361.99L639.48,230.82M510.25,363.94L641.42,232.76M512.19,365.88L643.36,234.71M514.14,367.83L645.31,236.65M516.08,369.77L647.25,238.6M518.03,371.72L649.2,240.54M519.97,373.66L651.14,242.49M521.91,375.6L653.09,244.43M523.86,377.55L655.03,246.38M525.8,379.49L656.98,248.32M527.75,381.44L658.92,250.26M529.69,383.38L660.87,252.21M531.64,385.33L662.81,254.15M533.58,387.27L664.75,256.1M535.53,389.22L666.7,258.04M537.47,391.16L668.64,259.99M539.42,393.11L670.59,261.93M541.36,395.05L672.53,263.88M543.3,396.99L674.48,265.82M545.25,398.94L676.42,267.77M547.19,400.88L678.37,269.71M549.14,402.83L680.31,271.65M551.08,404.77L682.26,273.6M553.03,406.72L684.2,275.54M554.97,408.66L686.14,277.49M556.92,410.61L688.09,279.43M558.86,412.55L690.03,281.38M560.81,414.5L691.98,283.32M562.75,416.44L693.92,285.27M564.69,418.38L695.87,287.21M566.64,420.33L697.81,289.16M568.58,422.27L699.76,291.1M570.53,424.22L701.7,293.04M572.47,426.16L703.65,294.99" stroke="#0000ff" stroke-width="1.3" fill="none"/>
<polyline points="482.5,288.52 526.25,281.41 570,275.78 613.75,268.08 657.5,262.16" fill="none" stroke="#47c847" stroke-width="1.3"/>
<circle cx="482.5" cy="288.52" r="2.9" fill="#47c847"/>
<circle cx="526.25" cy="281.41" r="2.9" fill="#47c847"/>
<circle cx="570" cy="275.78" r="2.9" fill="#47c847"/>
<circle cx="613.75" cy="268.08" r="2.9" fill="#47c847"/>
<circle cx="657.5" cy="262.16" r="2.9" fill="#47c847"/>
<polyline points="482.5,258.01 526.25,257.71 570,261.42 613.75,263.19 657.5,263.93" fill="none" stroke="#ff00ff" stroke-width="1.2"/>
<rect x="479.6" y="255.11" width="5.8" height="5.8" fill="none" stroke="#ff00ff" stroke-width="1.1"/>
<rect x="523.35" y="254.81" width="5.8" height="5.8" fill="none" stroke="#ff00ff" stroke-width="1.1"/>
<rect x="567.1" y="258.52" width="5.8" height="5.8" fill="none" stroke="#ff00ff" stroke-width="1.1"/>
<rect x="610.85" y="260.29" width="5.8" height="5.8" fill="none" stroke="#ff00ff" stroke-width="1.1"/>
<rect x="654.6" y="261.03" width="5.8" height="5.8" fill="none" stroke="#ff00ff" stroke-width="1.1"/>
<polyline points="482.5,287.33 526.25,293.7 570,297.7 613.75,295.92 657.5,294.89" fill="none" stroke="#0000ff" stroke-width="1.3"/>
<rect x="479.7" y="284.53" width="5.6" height="5.6" fill="#0000ff"/>
<rect x="523.45" y="290.9" width="5.6" height="5.6" fill="#0000ff"/>
<rect x="567.2" y="294.9" width="5.6" height="5.6" fill="#0000ff"/>
<rect x="610.95" y="293.12" width="5.6" height="5.6" fill="#0000ff"/>
<rect x="654.7" y="292.09" width="5.6" height="5.6" fill="#0000ff"/>
<polyline points="482.5,278 526.25,284.08 570,285.85 613.75,277.26 657.5,270.45" fill="none" stroke="#ff0000" stroke-width="1.3"/>
<circle cx="482.5" cy="278" r="2.9" fill="none" stroke="#ff0000" stroke-width="1.1"/>
<circle cx="526.25" cy="284.08" r="2.9" fill="none" stroke="#ff0000" stroke-width="1.1"/>
<circle cx="570" cy="285.85" r="2.9" fill="none" stroke="#ff0000" stroke-width="1.1"/>
<circle cx="613.75" cy="277.26" r="2.9" fill="none" stroke="#ff0000" stroke-width="1.1"/>
<circle cx="657.5" cy="270.45" r="2.9" fill="none" stroke="#ff0000" stroke-width="1.1"/>
<rect x="456.5" y="196.4" width="226.6" height="148.1" fill="none" stroke="#000" stroke-width="1.4"/>
<path d="M463.09,344.5V342M468.95,344.5V342M474.02,344.5V342M478.5,344.5V342M482.5,344.5V339.5M508.84,344.5V342M524.25,344.5V342M535.18,344.5V342M543.66,344.5V342M550.59,344.5V342M556.45,344.5V342M561.52,344.5V342M566,344.5V342M570,344.5V339.5M596.34,344.5V342M611.75,344.5V342M622.68,344.5V342M631.16,344.5V342M638.09,344.5V342M643.95,344.5V342M649.02,344.5V342M653.5,344.5V342M657.5,344.5V339.5" stroke="#000" stroke-width="1.2" fill="none"/>
<path d="M456.5,314.88H463M456.5,285.26H463M456.5,255.64H463M456.5,226.02H463" stroke="#000" stroke-width="1.2" fill="none"/>
<g transform="translate(454.4,349) scale(1.0,1.0)"><text x="0" y="0" font-size="12" text-anchor="end" fill="#000" font-weight="normal" stroke="#000" stroke-width="0.22">0</text></g>
<g transform="translate(454.4,319.38) scale(1.0,1.0)"><text x="0" y="0" font-size="12" text-anchor="end" fill="#000" font-weight="normal" stroke="#000" stroke-width="0.22">2</text></g>
<g transform="translate(454.4,289.76) scale(1.0,1.0)"><text x="0" y="0" font-size="12" text-anchor="end" fill="#000" font-weight="normal" stroke="#000" stroke-width="0.22">4</text></g>
<g transform="translate(454.4,260.14) scale(1.0,1.0)"><text x="0" y="0" font-size="12" text-anchor="end" fill="#000" font-weight="normal" stroke="#000" stroke-width="0.22">6</text></g>
<g transform="translate(454.4,230.52) scale(1.0,1.0)"><text x="0" y="0" font-size="12" text-anchor="end" fill="#000" font-weight="normal" stroke="#000" stroke-width="0.22">8</text></g>
<g transform="translate(454.4,200.9) scale(1.0,1.0)"><text x="0" y="0" font-size="12" text-anchor="end" fill="#000" font-weight="normal" stroke="#000" stroke-width="0.22">10</text></g>
<g transform="translate(473.4,360.7) scale(1.0,1.05)"><text x="0" y="0" font-size="11" text-anchor="start" fill="#000" font-weight="normal" stroke="#000" stroke-width="0.22">10<tspan font-size="6.8" dy="-4.9" dx="-0.4">−1</tspan></text></g>
<g transform="translate(570.6,360.7) scale(1.0,1.1)"><text x="0" y="0" font-size="11" text-anchor="middle" fill="#000" font-weight="normal" stroke="#000" stroke-width="0.22">1</text></g>
<g transform="translate(657,360.7) scale(1.0,1.1)"><text x="0" y="0" font-size="11" text-anchor="middle" fill="#000" font-weight="normal" stroke="#000" stroke-width="0.22">10</text></g>
<g transform="translate(682.5,372.8) scale(1.0,1.1)"><text x="0" y="0" font-size="11.95" text-anchor="end" fill="#000" font-weight="normal" stroke="#000" stroke-width="0.22">Input proton energy (TeV)</text></g>
<g transform="translate(429.2,196.3) rotate(-90) scale(1.03,1.12)">
<text x="0" y="0" font-size="11.4" text-anchor="end" stroke="#000" stroke-width="0.2">Probability of E<tspan font-size="8.4" dy="3.4">EM</tspan><tspan dy="-3.4">/E</tspan><tspan font-size="8.4" dy="3.4">tot</tspan><tspan dy="-3.4">&gt;0.6 (%)</tspan></text>
</g>
<g transform="translate(474.4,225.4) scale(1,1.06)"><text x="0" y="0" font-size="13.4" fill="#787878" font-weight="bold">E</text></g>
<g transform="translate(482.91,229.73) scale(1,1.08)"><text x="0" y="0" font-size="8.86" fill="#787878" font-weight="bold">EM</text></g>
<g transform="translate(496.31,225.4) scale(1,1.06)"><text x="0" y="0" font-size="13.4" fill="#787878" font-weight="bold">/</text></g>
<g transform="translate(500.22,225.4) scale(1,1.06)"><text x="0" y="0" font-size="13.4" fill="#787878" font-weight="bold">E</text></g>
<g transform="translate(509.57,229.73) scale(1,1.08)"><text x="0" y="0" font-size="8.86" fill="#787878" font-weight="bold">tot</text></g>
<g transform="translate(520.88,227.28) scale(1,1.0)"><text x="0" y="0" font-size="13.4" fill="#787878" font-weight="bold">&gt;</text></g>
<g transform="translate(528.7,225.4) scale(1,1.03)"><text x="0" y="0" font-size="13.96" fill="#787878" font-weight="bold">60%</text></g>
<rect x="564.5" y="200.5" width="113" height="38.5" fill="#fff" stroke="#111" stroke-width="1.1"/>
<polygon points="569,201.8 589,201.8 589,209 569,209" fill="url(#hr)" stroke="none"/>
<path d="M569,205.4H589" stroke="#ff0000" stroke-width="0.9750000000000001"/>
<circle cx="579" cy="205.4" r="2.8" fill="#fff" stroke="#ff0000" stroke-width="0.9750000000000001"/>
<g transform="translate(592.4,208.2) scale(1.0,1.15)"><text x="0" y="0" font-size="6.75" text-anchor="start" fill="#000" font-weight="normal" stroke="#000" stroke-width="0.2">QGSJET-II-03</text></g>
<path clip-path="url(#c18)" d="M554.82,212.73L576.93,190.62M556.28,214.18L578.38,192.08M557.74,215.64L579.84,193.54M559.2,217.1L581.3,195M560.66,218.56L582.76,196.46M562.12,220.02L584.22,197.92M563.57,221.48L585.68,199.37M565.03,222.93L587.13,200.83M566.49,224.39L588.59,202.29M567.95,225.85L590.05,203.75M569.41,227.31L591.51,205.21M570.87,228.77L592.97,206.67M572.32,230.23L594.43,208.12M573.78,231.68L595.88,209.58M575.24,233.14L597.34,211.04M576.7,234.6L598.8,212.5M578.16,236.06L600.26,213.96M579.62,237.52L601.72,215.42M581.07,238.98L603.18,216.87" stroke="#0000ff" stroke-width="1.3" fill="none"/>
<circle cx="579" cy="214.8" r="2.94" fill="#0000ff"/>
<g transform="translate(592.4,217.4) scale(1.0,1.15)"><text x="0" y="0" font-size="6.75" text-anchor="start" fill="#000" font-weight="normal" stroke="#000" stroke-width="0.2">QGSJET-II-04</text></g>
<polygon points="569,220.6 589,220.6 589,227.8 569,227.8" fill="url(#hg)" stroke="none"/>
<path d="M569,224.2H589" stroke="#47c847" stroke-width="0.9750000000000001"/>
<circle cx="579" cy="224.2" r="2.8" fill="#47c847"/>
<g transform="translate(592.4,226.8) scale(1.0,1.15)"><text x="0" y="0" font-size="6.75" text-anchor="start" fill="#000" font-weight="normal" stroke="#000" stroke-width="0.2">EPOS-LHC</text></g>
<path clip-path="url(#c20)" d="M577,207.98L603.22,225M575.61,210.12L601.83,227.14M574.23,212.26L600.44,229.28M572.84,214.4L599.05,231.42M571.45,216.53L597.66,233.56M570.06,218.67L596.27,235.7M568.67,220.81L594.88,237.83M567.28,222.95L593.5,239.97M565.89,225.09L592.11,242.11M564.5,227.23L590.72,244.25M563.12,229.37L589.33,246.39M561.73,231.5L587.94,248.53M560.34,233.64L586.55,250.67M558.95,235.78L585.16,252.8M557.56,237.92L583.77,254.94M556.17,240.06L582.39,257.08M554.78,242.2L581,259.22" stroke="#ff00ff" stroke-width="1.2" fill="none"/>
<rect x="576.76" y="231.36" width="4.48" height="4.48" fill="none" stroke="#ff00ff" stroke-width="0.75"/>
<g transform="translate(592.4,236.2) scale(1.0,1.15)"><text x="0" y="0" font-size="6.75" text-anchor="start" fill="#000" font-weight="normal" stroke="#000" stroke-width="0.2">SIBYLL2.3c</text></g>
</svg></body></html>
